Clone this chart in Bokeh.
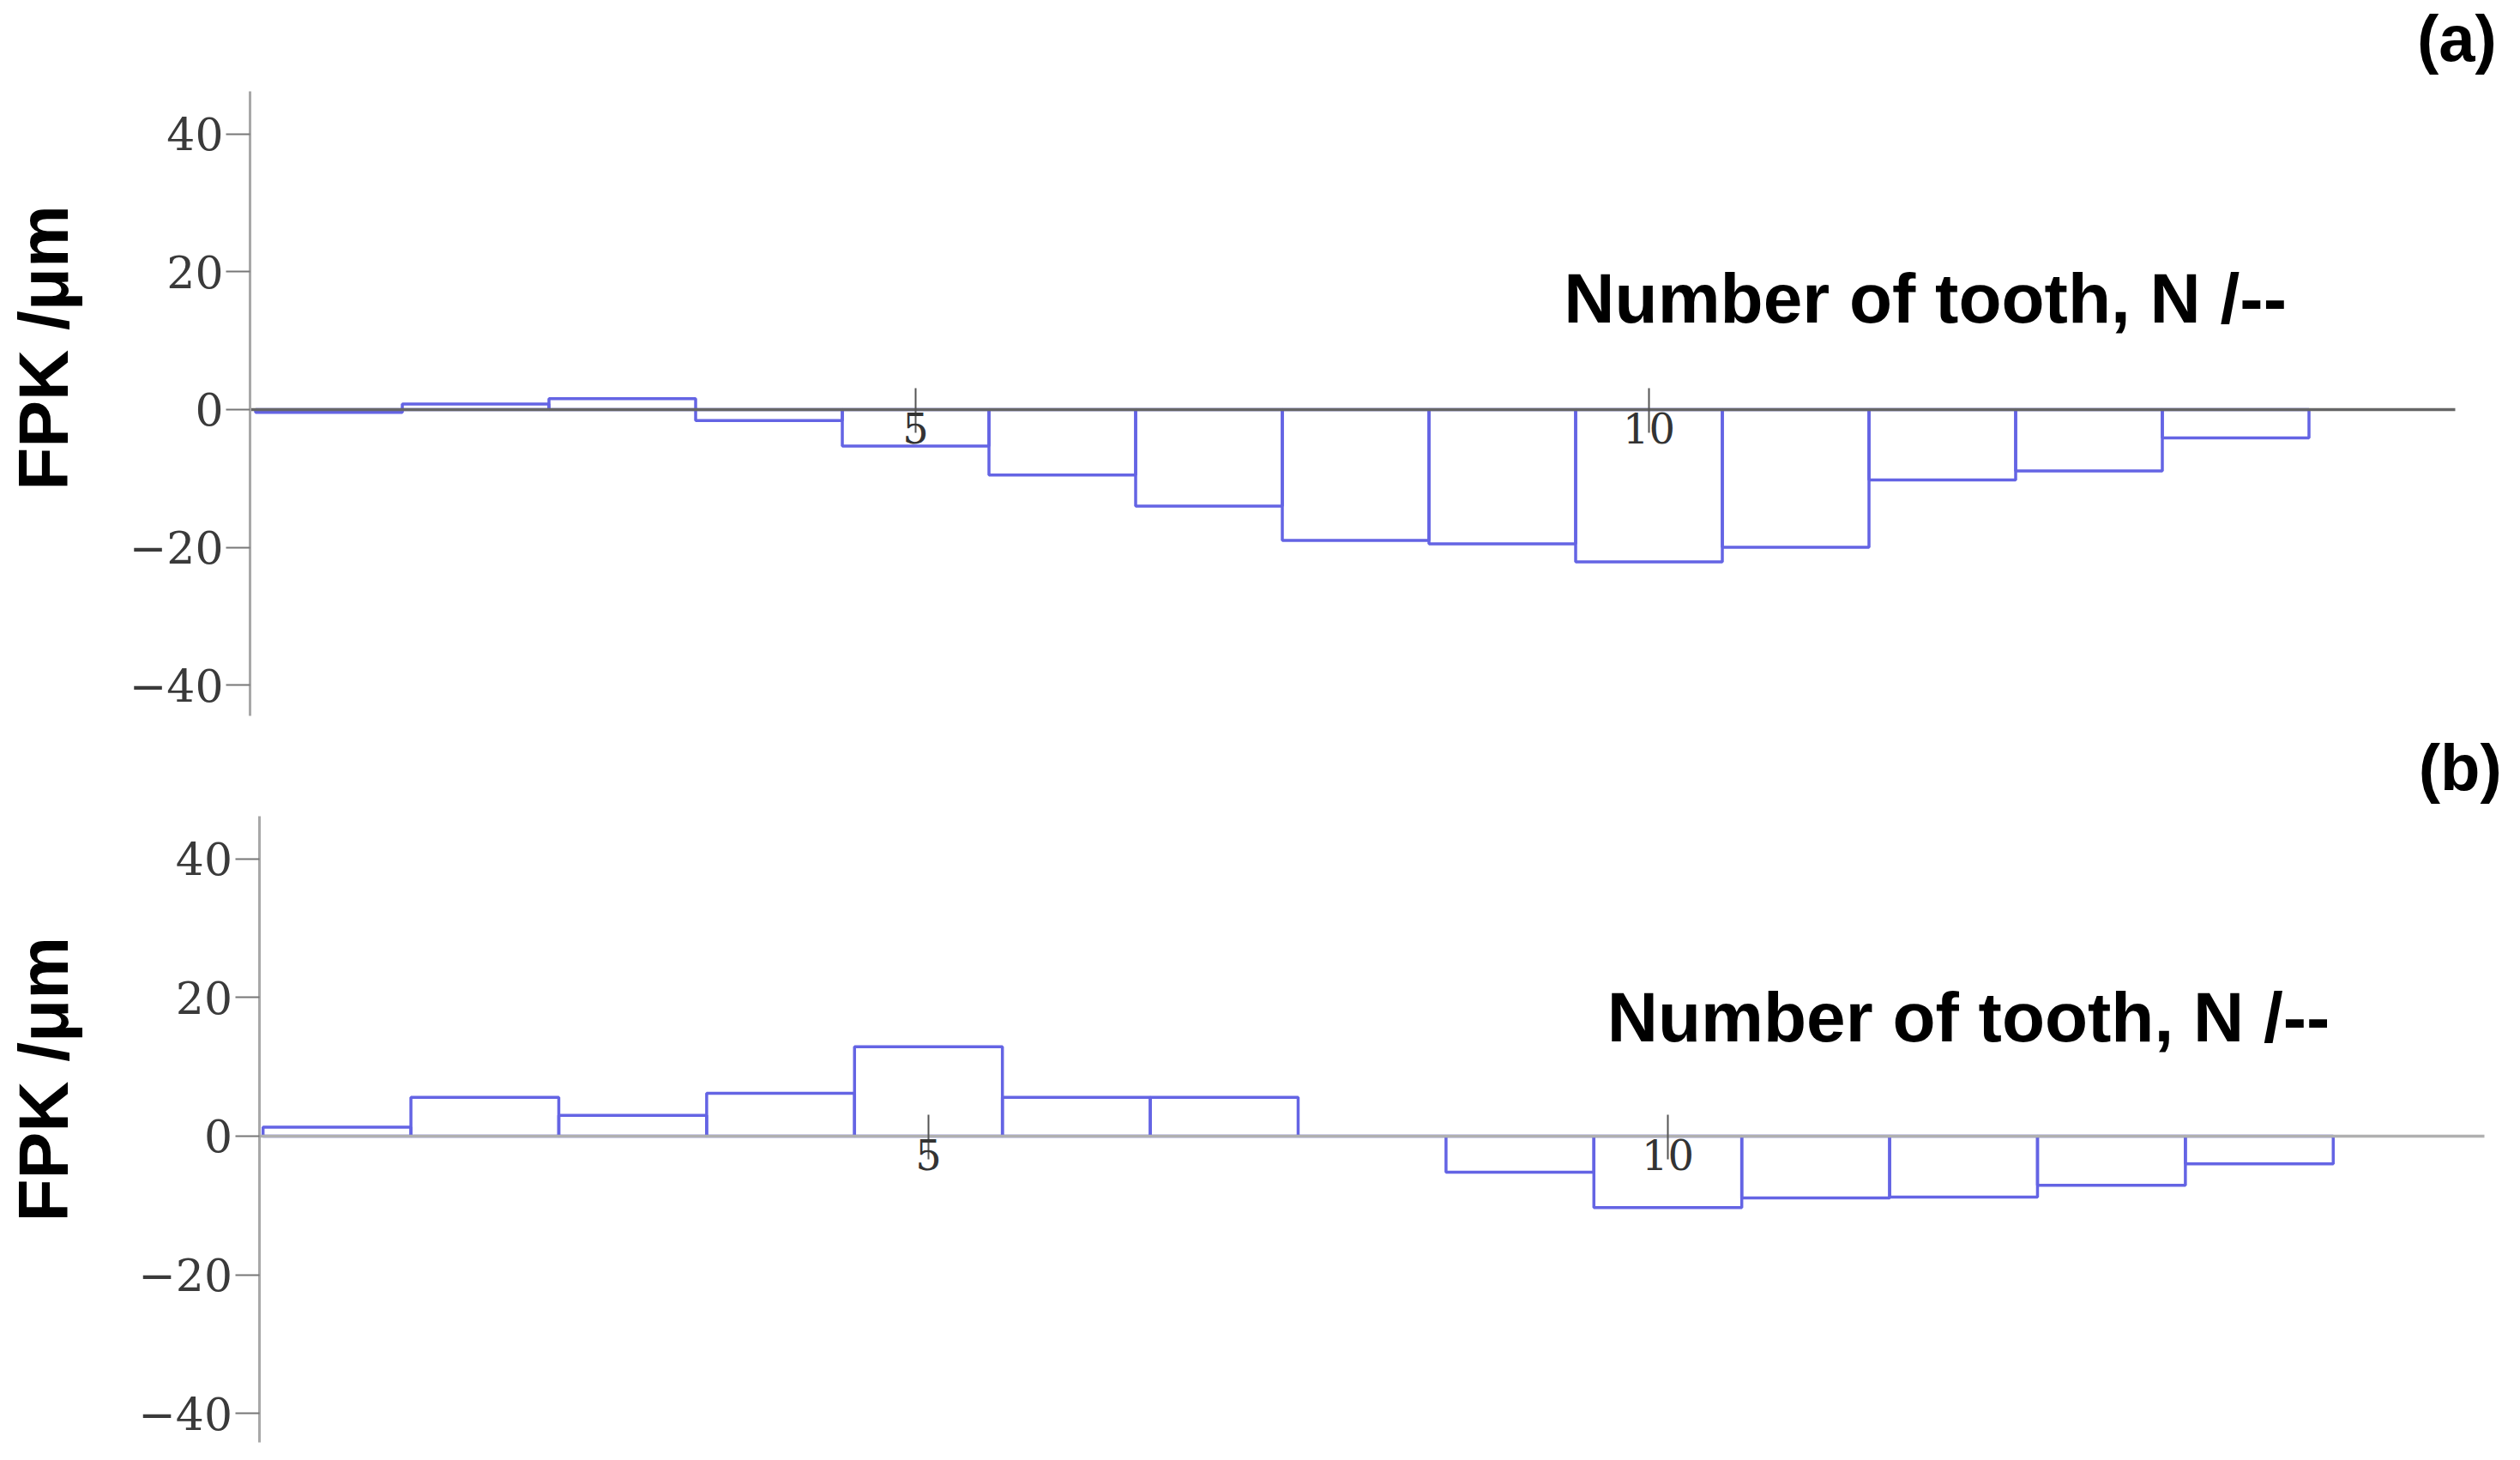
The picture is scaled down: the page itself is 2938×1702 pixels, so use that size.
import numpy as np
from bokeh.plotting import figure
from bokeh.models import FixedTicker, Label, Range1d
from bokeh.layouts import column
from bokeh.embed import file_html
from bokeh.resources import INLINE

# ---- data ----
teeth = list(range(1, 15))
fpk_a = [-0.4, 0.8, 1.6, -1.6, -5.3, -9.5, -14.0, -19.0, -19.5, -22.1, -20.0, -10.2, -8.9, -4.1]
fpk_b = [1.3, 5.6, 3.0, 6.2, 12.9, 5.6, 5.6, 0.0, -5.2, -10.3, -8.9, -8.8, -7.1, -4.0]
y_ticks = [-40, -20, 0, 20, 40]
x_ticks = [5, 10]
y_title = "FPK /μm"
x_title = "Number of tooth, N /--"
panel_tags = ["(a)", "(b)"]

BAR_COLOR = "#6464e4"


def make_panel(values, tag, cfg):
    p = figure(
        width=cfg["w"], height=cfg["h"],
        x_range=Range1d(*cfg["xr"]), y_range=Range1d(*cfg["yr"]),
        output_backend="svg", toolbar_location=None,
        min_border=0, min_border_left=0, min_border_right=0,
        min_border_top=0, min_border_bottom=0,
        background_fill_color="white", border_fill_color="white",
    )
    p.outline_line_color = None
    p.xgrid.visible = False
    p.ygrid.visible = False

    p.vbar(x=teeth, top=values, bottom=0, width=1.0,
           fill_alpha=0, line_color=BAR_COLOR, line_width=3.5)

    # x axis drawn through zero
    xa = p.xaxis[0]
    xa.fixed_location = 0
    xa.bounds = cfg["xb"]
    xa.ticker = FixedTicker(ticks=x_ticks)
    xa.axis_line_color = cfg["xline"]
    xa.axis_line_width = 3.5
    xa.major_tick_line_color = "#555555"
    xa.major_tick_line_width = 2
    xa.major_tick_in = 25
    xa.major_tick_out = 27
    xa.minor_tick_line_color = None
    xa.major_label_standoff = -23
    xa.major_label_text_font = "DejaVu Serif"
    xa.major_label_text_font_size = "48px"
    xa.major_label_text_color = "#333333"

    # y axis at the left edge of the data
    ya = p.yaxis[0]
    ya.fixed_location = cfg["xb"][0]
    ya.bounds = cfg["yb"]
    ya.ticker = FixedTicker(ticks=y_ticks)
    ya.major_label_overrides = {-40: "−40", -20: "−20"}
    ya.axis_line_color = "#a8a8a8"
    ya.axis_line_width = 3
    ya.major_tick_line_color = "#777777"
    ya.major_tick_line_width = 2
    ya.major_tick_in = 0
    ya.major_tick_out = 28
    ya.minor_tick_line_color = None
    ya.major_label_standoff = 3
    ya.major_label_text_font = "DejaVu Serif"
    ya.major_label_text_font_size = "52px"
    ya.major_label_text_color = "#3a3a3a"

    p.add_layout(Label(x=cfg["ylab"][0], y=cfg["ylab"][1], text=y_title, angle=np.pi / 2,
                       text_font="Liberation Sans", text_font_style="bold",
                       text_font_size="82px", text_align="center",
                       text_baseline="alphabetic", text_color="black"))
    p.add_layout(Label(x=cfg["xlab"][0], y=cfg["xlab"][1], text=x_title,
                       text_font="Liberation Sans", text_font_style="bold",
                       text_font_size="82px", text_align="left",
                       text_baseline="alphabetic", text_color="black"))
    p.add_layout(Label(x=cfg["tag"][0], y=cfg["tag"][1], text=tag,
                       text_font="Liberation Sans", text_font_style="bold",
                       text_font_size="76px", text_align="right",
                       text_baseline="alphabetic", text_color="black"))
    return p


cfg_a = dict(w=2922, h=847, xr=(-1.240, 15.848), yr=(-46.08, 59.40),
             xb=(0.462, 15.50), yb=(-44.5, 46.2), xline="#666666",
             ylab=(-0.948, 8.97), xlab=(9.42, 16.19), tag=(15.78, 53.9))
cfg_b = dict(w=2922, h=855, xr=(-1.276, 15.673), yr=(-46.78, 59.03),
             xb=(0.473, 15.52), yb=(-44.2, 46.2), xline="#b0b0b0",
             ylab=(-0.986, 8.2), xlab=(9.59, 17.21), tag=(15.64, 53.22))

pa = make_panel(fpk_a, panel_tags[0], cfg_a)
pb = make_panel(fpk_b, panel_tags[1], cfg_b)

layout = column(pa, pb)
open("out.html", "w").write(file_html(layout, INLINE))
